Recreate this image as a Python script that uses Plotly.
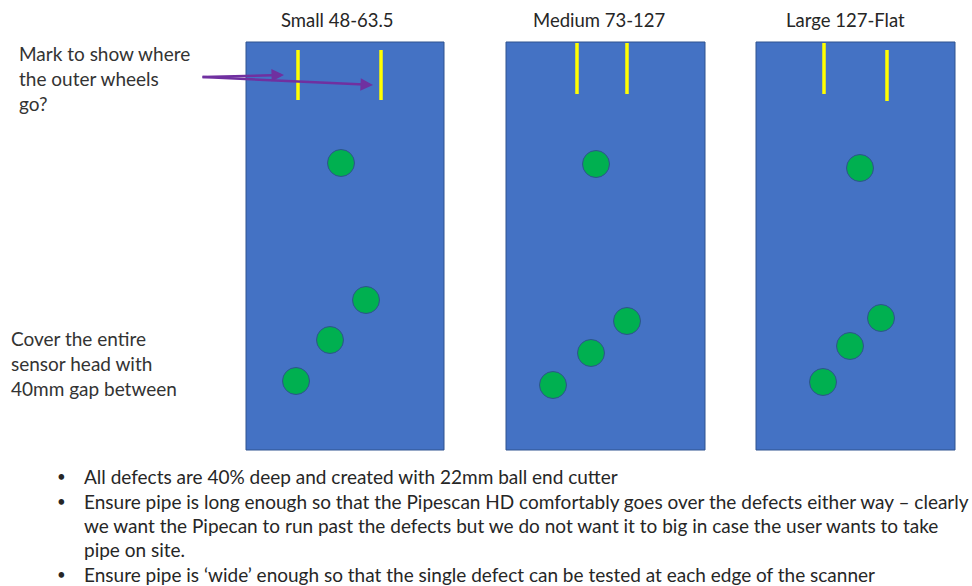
import plotly.graph_objects as go

# Layout of the sketch in page pixels (x right, y down)
W, H = 972, 586

panel_names = ["Small 48-63.5", "Medium 73-127", "Large 127-Flat"]
panel_left = [246, 506, 756]
panel_right = [444, 705, 955]
panel_top = 42
panel_bottom = 450
title_x = [337, 599, 845]

# yellow marks for the outer wheels: x, top, bottom
wheel_x = [[298, 381], [577, 627], [824, 887]]
wheel_top = [[50, 50], [43, 43], [43, 50]]
wheel_bottom = [[100, 100], [94, 94], [94, 101]]

# single defect per panel
single_x = [341, 596, 860]
single_y = [163, 164, 168]

# three staggered defects per panel
group_x = [[366, 330, 296], [627, 591, 553], [881, 850, 823]]
group_y = [[300, 340, 381], [321, 353, 385], [318, 346, 382]]

left_notes = [
    ["Mark to show where", "the outer wheels", "go?"],
    ["Cover the entire", "sensor head with", "40mm gap between"],
]
left_note_y = [[53, 78, 103], [338, 363, 388]]

bullets = [
    ["All defects are 40% deep and created with 22mm ball end cutter"],
    ["Ensure pipe is long enough so that the Pipescan HD comfortably goes over the defects either way \u2013 clearly",
     "we want the Pipecan to run past the defects but we do not want it to big in case the user wants to take",
     "pipe on site."],
    ["Ensure pipe is \u2018wide\u2019 enough so that the single defect can be tested at each edge of the scanner"],
]
bullet_y = [[476], [501, 525, 549], [574]]

BLUE = "#4472C4"
EDGE = "#2F528F"
GREEN = "#00B050"
YELLOW = "#FFFF00"
PURPLE = "#7030A0"
INK = "#262626"
FONT = "Lato"

fig = go.Figure()

for i in range(3):
    x0, x1 = panel_left[i], panel_right[i]
    fig.add_trace(go.Scatter(
        x=[x0, x1, x1, x0, x0], y=[panel_top, panel_top, panel_bottom, panel_bottom, panel_top],
        mode="lines", fill="toself", fillcolor=BLUE, line=dict(color=EDGE, width=1),
        hoverinfo="skip", showlegend=False))
    for j in range(2):
        fig.add_trace(go.Scatter(
            x=[wheel_x[i][j], wheel_x[i][j]], y=[wheel_top[i][j], wheel_bottom[i][j]],
            mode="lines", line=dict(color=YELLOW, width=3.5),
            hoverinfo="skip", showlegend=False))
    fig.add_trace(go.Scatter(
        x=[single_x[i]] + group_x[i], y=[single_y[i]] + group_y[i],
        mode="markers", marker=dict(size=27, color=GREEN, line=dict(color=EDGE, width=1)),
        hoverinfo="skip", showlegend=False))
    fig.add_annotation(x=title_x[i], y=20, text=panel_names[i], showarrow=False,
                       font=dict(family=FONT, size=18.5, color=INK), xanchor="center", yanchor="middle")

for lines, ys, x in zip(left_notes, left_note_y, [17, 9]):
    for t, y in zip(lines, ys):
        fig.add_annotation(x=x, y=y, text=t, showarrow=False, xanchor="left", yanchor="middle",
                           font=dict(family=FONT, size=19, color="#333"))

# purple arrows pointing at the wheel marks
for tip in [(284, 75), (373, 85)]:
    fig.add_annotation(x=tip[0], y=tip[1], ax=201, ay=77, axref="x", ayref="y", xref="x", yref="y",
                       text="", showarrow=True, arrowhead=2, arrowsize=1, arrowwidth=2.5,
                       arrowcolor=PURPLE)

for lines, ys in zip(bullets, bullet_y):
    fig.add_annotation(x=61, y=ys[0], text="\u2022", showarrow=False, xanchor="center", yanchor="middle",
                       font=dict(family=FONT, size=15, color=INK))
    for t, y in zip(lines, ys):
        fig.add_annotation(x=82, y=y, text=t, showarrow=False, xanchor="left", yanchor="middle",
                           font=dict(family=FONT, size=19, color=INK))

fig.update_xaxes(range=[0, W], visible=False, fixedrange=True)
fig.update_yaxes(range=[H, 0], visible=False, fixedrange=True)
fig.update_layout(width=W, height=H, margin=dict(l=0, r=0, t=0, b=0),
                  plot_bgcolor="white", paper_bgcolor="white")

# drop the browser's default 8px body margin so the figure fills the window
fig.write_html("out.html", config={"displayModeBar": False},
               post_script="document.body.style.margin='0';document.body.style.overflow='hidden';")
